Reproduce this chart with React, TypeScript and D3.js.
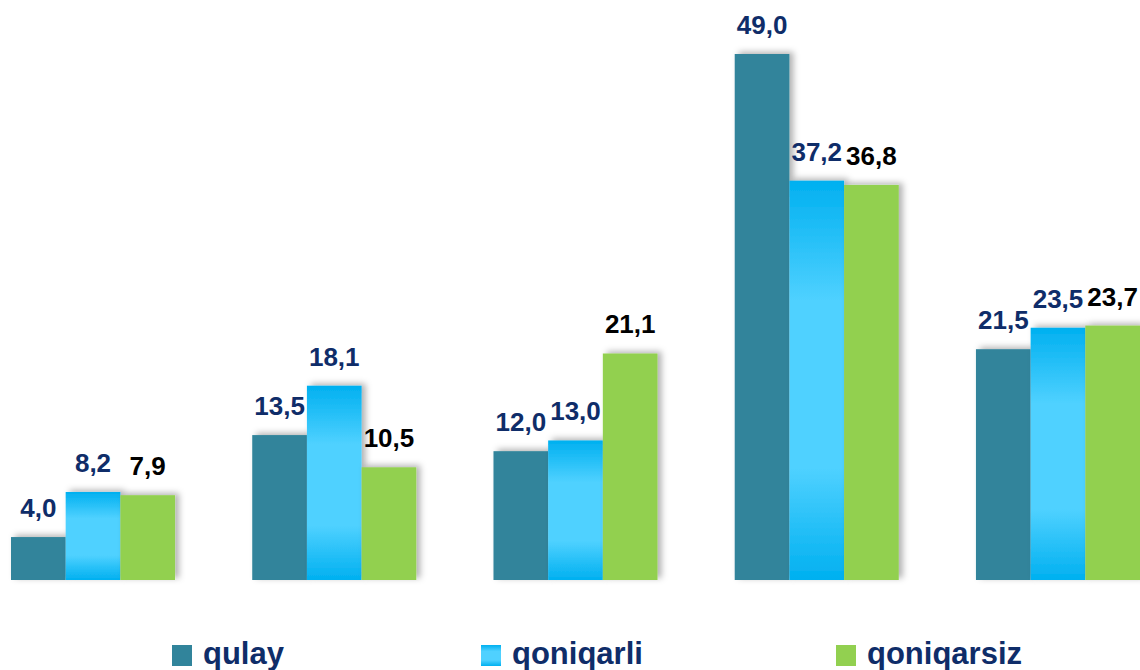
import React, { useRef, useEffect } from "react";
import * as d3 from "d3";

// Chart data
const categories = ["g1", "g2", "g3", "g4", "g5"];
const seriesNames = ["qulay", "qoniqarli", "qoniqarsiz"];
const qulay = [4.0, 13.5, 12.0, 49.0, 21.5];
const qoniqarli = [8.2, 18.1, 13.0, 37.2, 23.5];
const qoniqarsiz = [7.9, 10.5, 21.1, 36.8, 23.7];

const seriesValues = [qulay, qoniqarli, qoniqarsiz];
const fills = ["#31849B", "url(#blueGrad)", "#92D050"];
const legendFills = ["#31849B", "url(#blueGradLegend)", "#92D050"];
const labelColors = ["#0F2D69", "#0F2D69", "#000000"];

const App = () => {
  const svgRef = useRef<SVGSVGElement>(null);

  useEffect(() => {
    const width = 1140;
    const height = 670;
    const svg = d3.select(svgRef.current).attr("width", width).attr("height", height);
    svg.selectAll("*").remove();

    const defs = svg.append("defs");
    // vertical gradient for the light blue series
    const addGrad = (id: string) => {
      const g = defs
        .append("linearGradient")
        .attr("id", id)
        .attr("x1", 0)
        .attr("y1", 0)
        .attr("x2", 0)
        .attr("y2", 1);
      g.append("stop").attr("offset", "0%").attr("stop-color", "#00B0F0");
      g.append("stop").attr("offset", "30%").attr("stop-color", "#4FD1FF");
      g.append("stop").attr("offset", "72%").attr("stop-color", "#4FD1FF");
      g.append("stop").attr("offset", "100%").attr("stop-color", "#00B0F0");
    };
    addGrad("blueGrad");
    addGrad("blueGradLegend");

    const shadow = defs
      .append("filter")
      .attr("id", "shadow")
      .attr("x", "-20%")
      .attr("y", "-20%")
      .attr("width", "150%")
      .attr("height", "150%");
    shadow
      .append("feDropShadow")
      .attr("dx", 4)
      .attr("dy", -2)
      .attr("stdDeviation", 3)
      .attr("flood-color", "#000")
      .attr("flood-opacity", 0.3);

    const x0 = d3.scaleBand().domain(categories).range([11, 1140]).paddingInner(0.32).paddingOuter(0);
    const x1 = d3.scaleBand().domain(seriesNames).range([0, x0.bandwidth()]);
    const y = d3.scaleLinear().domain([0, d3.max(qulay) as number]).range([580, 54]);

    const fmt = (v: number) => v.toFixed(1).replace(".", ",");

    // bars, series by series so later ones sit on top
    seriesNames.forEach((name, si) => {
      const rows = categories.map((c, i) => ({ c, v: seriesValues[si][i] }));
      svg
        .append("g")
        .selectAll("rect")
        .data(rows)
        .join("rect")
        .attr("x", (d) => (x0(d.c) as number) + (x1(name) as number))
        .attr("y", (d) => y(d.v))
        .attr("width", x1.bandwidth())
        .attr("height", (d) => y(0) - y(d.v))
        .attr("fill", fills[si])
        .attr("filter", "url(#shadow)");
    });

    // value labels
    seriesNames.forEach((name, si) => {
      const rows = categories.map((c, i) => ({ c, v: seriesValues[si][i] }));
      svg
        .append("g")
        .selectAll("text")
        .data(rows)
        .join("text")
        .attr("x", (d) => (x0(d.c) as number) + (x1(name) as number) + x1.bandwidth() / 2)
        .attr("y", (d) => y(d.v) - 20)
        .attr("text-anchor", "middle")
        .attr("font-family", "'Liberation Sans', Arial, sans-serif")
        .attr("font-weight", "bold")
        .attr("font-size", "26px")
        .attr("fill", labelColors[si])
        .text((d) => fmt(d.v));
    });

    // legend
    const legendX = [172, 481, 836];
    const legend = svg.append("g");
    legend
      .selectAll("rect")
      .data(seriesNames)
      .join("rect")
      .attr("x", (d, i) => legendX[i])
      .attr("y", 645)
      .attr("width", 20)
      .attr("height", 21)
      .attr("fill", (d, i) => legendFills[i]);
    legend
      .selectAll("text")
      .data(seriesNames)
      .join("text")
      .attr("x", (d, i) => legendX[i] + 31)
      .attr("y", 664)
      .attr("font-family", "'Liberation Sans', Arial, sans-serif")
      .attr("font-weight", "bold")
      .attr("font-size", "31px")
      .attr("fill", "#0F2D69")
      .text((d) => d);
  }, []);

  return (
    <div style={{ position: "absolute", left: 0, top: 0 }}>
      <svg ref={svgRef} style={{ display: "block" }}></svg>
    </div>
  );
};

export default App;
